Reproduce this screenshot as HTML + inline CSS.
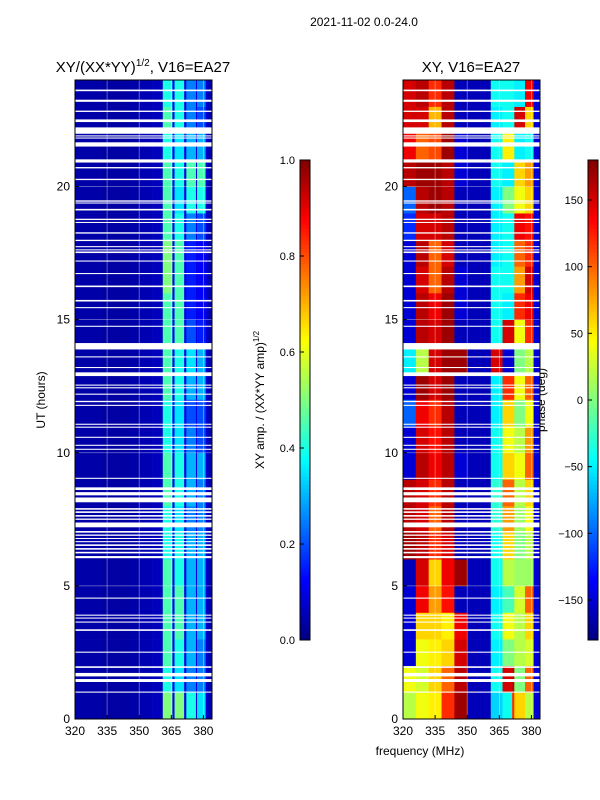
<!DOCTYPE html>
<html><head><meta charset="utf-8"><style>
html,body{margin:0;padding:0;background:#fff;}
svg{display:block;font-family:"Liberation Sans","DejaVu Sans",sans-serif;}
</style></head><body>
<svg id="fig" width="600" height="800" viewBox="0 0 600 800">
<text x="364" y="26" font-size="12" text-anchor="middle">2021-11-02 0.0-24.0</text>
<text x="143" y="72" font-size="15" text-anchor="middle">XY/(XX*YY)<tspan font-size="10" dy="-6">1/2</tspan><tspan dy="6">, V16=EA27</tspan></text>
<text x="471" y="72" font-size="15" text-anchor="middle">XY, V16=EA27</text>
<text x="420" y="755" font-size="12" text-anchor="middle">frequency (MHz)</text>
<text transform="translate(45,400) rotate(-90)" font-size="12" text-anchor="middle">UT (hours)</text>
<text transform="translate(264,400) rotate(-90)" font-size="12" text-anchor="middle">XY amp. / (XX*YY amp)<tspan font-size="8" dy="-5">1/2</tspan></text>
<text transform="translate(545,400) rotate(-90)" font-size="12" text-anchor="middle">phase (deg)</text>
<g id="left"></g>
<g id="right"></g>
<g id="cb1"></g>
<g id="cb2"></g>
</svg>
<script>
const freqEdges=[320,326,332,338,344,350,356,361,365.5,366.5,371,372,376.5,377,381,382,384];
const hours=[0,1,2,3,4,5,6,7,8,9,10,11,12,13,14,15,16,17,18,19,20,21,22,23];
const xTicks=[320,335,350,365,380];
const yTicks=[0,5,10,15,20];
const ampTicks=[0.0,0.2,0.4,0.6,0.8,1.0];
const phaseTicks=[-150,-100,-50,0,50,100,150];
const ampBandA=[.5,.4,.45,.45,.45,.45,.4,.4,.45,.45,.4,.4,.45,.45,.45,.45,.5,.5,.45,.45,.45,.4,.45,.4];
const ampBandB=[.5,.35,.4,.45,.45,.4,.4,.35,.4,.4,.35,.35,.4,.4,.45,.45,.45,.45,.4,.35,.4,.35,.4,.4];
const ampBandC=[.4,.25,.3,.3,.3,.3,.3,.25,.3,.3,.25,.2,.3,.35,.2,.15,.15,.15,.25,.4,.45,.3,.25,.25];
const ampBandD=[.35,.25,.25,.3,.3,.3,.3,.25,.25,.3,.2,.2,.3,.3,.15,.12,.12,.12,.2,.4,.45,.3,.2,.25];
const ampBase=[.04,.04,.035,.035,.04,.05,.06,null,.12,null,.1,null,.1,null,.08,.05];
const phase=[
[20,40,50,120,170,-160,-160,-60,-60,-40,120,60,60,20,-150,-150],
[40,30,60,100,160,-160,-160,-40,-40,150,160,0,0,100,-150,-150],
[-150,40,50,60,150,-160,-160,-50,-50,0,0,20,20,30,-150,-150],
[-150,60,60,50,140,-160,-160,-40,-40,40,40,20,20,60,-150,-150],
[-150,140,80,130,-160,-160,-160,-50,-50,-20,-20,30,30,100,-150,-150],
[-160,150,60,140,170,-160,-160,-40,-40,20,20,10,10,10,-150,-150],
[170,160,120,150,-160,-160,-160,-40,-40,60,60,0,0,20,-150,-150],
[160,150,100,160,-160,-160,-160,-30,-30,80,80,10,10,40,-150,-150],
[160,150,120,160,-160,-160,-160,-30,-30,100,100,20,20,60,-150,-150],
[-150,160,140,160,-150,-160,-160,-40,-40,60,60,40,40,100,-150,-150],
[-150,150,130,160,-160,-160,-160,-40,-40,40,40,20,20,80,-150,-150],
[-100,140,120,160,-160,-160,-160,-50,-50,60,60,0,0,40,-150,-150],
[-150,170,150,170,-160,-160,-160,-50,-50,120,120,40,40,100,-150,-150],
[-50,20,150,170,170,-160,-160,150,150,-150,-150,0,0,20,-150,-150],
[-150,160,150,170,-160,-160,-160,-40,-40,150,150,40,40,120,-150,-150],
[-150,160,140,170,-150,-160,-160,-40,-40,-50,-50,120,120,140,-150,-150],
[-150,150,100,160,-150,-160,-160,-40,-40,-40,-40,80,80,150,-150,-150],
[-150,160,100,150,-160,-160,-160,-50,-50,-40,-40,100,100,120,-150,-150],
[-120,150,150,160,-160,-160,-160,-50,-50,-40,-40,140,140,130,-150,-150],
[-100,160,170,160,-160,-160,-160,-50,-50,0,0,40,40,60,-150,-150],
[160,170,170,160,-150,-160,-160,-40,-40,-50,-50,60,60,80,-150,-150],
[140,100,110,170,-150,-160,-160,-40,-40,50,50,-50,-50,-40,-150,-150],
[150,150,70,160,-160,-160,-160,-50,-50,-40,-40,150,150,60,-150,-150],
[150,160,120,160,-160,-160,-160,-40,-40,-40,-40,-50,-50,140,-150,-150]];
const flags=[[23.58,23.64],[23.18,23.26],[22.8,22.85],[22.42,22.52],[21.98,22.22],[21.88,21.92],[21.8,21.84],[21.5,21.66],[20.9,21.02],[20.68,20.73],[20.24,20.29],[19.43,19.48],[19.36,19.4],[19.1,19.16],[18.74,18.79],[18.63,18.67],[18.23,18.28],[17.95,18.0],[17.72,17.76],[17.6,17.64],[17.5,17.56],[17.18,17.22],[16.71,16.75],[16.22,16.28],[15.68,15.74],[15.43,15.47],[14.73,14.77],[13.88,14.12],[13.58,13.62],[13.18,13.22],[12.88,13.02],[12.52,12.56],[12.42,12.46],[12.18,12.22],[11.9,11.95],[11.76,11.8],[11.05,11.09],[10.94,10.98],[10.56,10.6],[10.26,10.3],[10.11,10.15],[9.02,9.06],[8.6,8.7],[8.4,8.52],[8.14,8.32],[7.86,7.92],[7.74,7.8],[7.6,7.66],[7.48,7.53],[7.2,7.38],[7.0,7.06],[6.88,6.93],[6.76,6.8],[6.64,6.68],[6.5,6.56],[6.36,6.42],[6.22,6.28],[6.04,6.12],[4.52,4.56],[3.88,3.92],[3.77,3.81],[3.62,3.66],[3.31,3.37],[2.49,2.53],[1.92,1.98],[1.6,1.73],[1.39,1.5],[0.99,1.03]];

const NS='http://www.w3.org/2000/svg';
function mk(tag,attrs,parent){const e=document.createElementNS(NS,tag);for(const k in attrs)e.setAttribute(k,attrs[k]);parent.appendChild(e);return e;}
function jet(v){v=Math.max(0,Math.min(1,v));
 const r=Math.max(0,Math.min(1,1.5-Math.abs(4*v-3)));
 const g=Math.max(0,Math.min(1,1.5-Math.abs(4*v-2)));
 const b=Math.max(0,Math.min(1,1.5-Math.abs(4*v-1)));
 return `rgb(${Math.round(r*255)},${Math.round(g*255)},${Math.round(b*255)})`;}
const Y0=719,Y1=80;
function yScale(h){return Y0-(h/24)*(Y0-Y1);}
function makeX(x0,x1){return f=>x0+(f-320)/(384-320)*(x1-x0);}
const panels=[{g:'left',x0:75,x1:212,kind:'amp'},{g:'right',x0:403,x1:540,kind:'phase'}];
panels.forEach(p=>{
 const g=document.getElementById(p.g);const xs=makeX(p.x0,p.x1);
 hours.forEach((h,ri)=>{
  for(let ci=0;ci<freqEdges.length-1;ci++){
   let v;
   if(p.kind==='amp'){
    v=ampBase[ci];
    if(ci===7)v=ampBandA[ri];else if(ci===9)v=ampBandB[ri];else if(ci===11)v=ampBandC[ri];else if(ci===13)v=ampBandD[ri];
   } else v=(phase[ri][ci]+180)/360;
   const r=mk('rect',{x:xs(freqEdges[ci]).toFixed(2),y:yScale(h+1).toFixed(2),width:(xs(freqEdges[ci+1])-xs(freqEdges[ci])+0.3).toFixed(2),height:(yScale(h)-yScale(h+1)+0.3).toFixed(2),fill:jet(v)},g);
   
   
  }
 });
 flags.forEach(f=>{
  const r=mk('rect',{x:p.x0,y:yScale(f[1]).toFixed(2),width:p.x1-p.x0,height:Math.max(1,yScale(f[0])-yScale(f[1])).toFixed(2),fill:'#fff'},g);
  
  
 });
 xTicks.forEach(t=>{
  const x=xs(t);
  const l=mk('line',{x1:x,x2:x,y1:Y1,y2:Y0,stroke:'rgba(255,255,255,0.45)','stroke-width':0.8},g);
  
  
  mk('line',{x1:x,x2:x,y1:Y0,y2:Y0-4,stroke:'#000'},g);
  const tx=mk('text',{x:x,y:Y0+16,'font-size':12,'text-anchor':'middle'},g);tx.textContent=t;
  
  
 });
 yTicks.forEach(t=>{
  const y=yScale(t);
  const l=mk('line',{x1:p.x0,x2:p.x1,y1:y,y2:y,stroke:'rgba(255,255,255,0.45)','stroke-width':0.8},g);
  
  
  mk('line',{x1:p.x0,x2:p.x0+4,y1:y,y2:y,stroke:'#000'},g);
  const tx=mk('text',{x:p.x0-5,y:y+4,'font-size':12,'text-anchor':'end'},g);tx.textContent=t;
  
  
 });
 const fr=mk('rect',{x:p.x0,y:Y1,width:p.x1-p.x0,height:Y0-Y1,fill:'none',stroke:'#000','stroke-width':1},g);
 
 
});
function colorbar(id,x,vmin,vmax,ticks,fmt){
 const g=document.getElementById(id);const top=160,bot=640,N=120;
 for(let i=0;i<N;i++){mk('rect',{x:x,y:(bot-(i+1)*(bot-top)/N).toFixed(2),width:10,height:((bot-top)/N+0.5).toFixed(2),fill:jet((i+0.5)/N)},g);}
 mk('rect',{x:x,y:top,width:10,height:bot-top,fill:'none',stroke:'#000','stroke-width':1},g);
 ticks.forEach(t=>{const y=bot-(t-vmin)/(vmax-vmin)*(bot-top);
  mk('line',{x1:x,x2:x+4,y1:y,y2:y,stroke:'#000'},g);
  const tx=mk('text',{x:x-5,y:y+4,'font-size':11,'text-anchor':'end'},g);tx.textContent=fmt(t);
  
  
 });
}
colorbar('cb1',300,0,1,ampTicks,t=>t.toFixed(1));
colorbar('cb2',588,-180,180,phaseTicks,t=>t<0?'\u2212'+Math.abs(t):String(t));
</script>
</body></html>
